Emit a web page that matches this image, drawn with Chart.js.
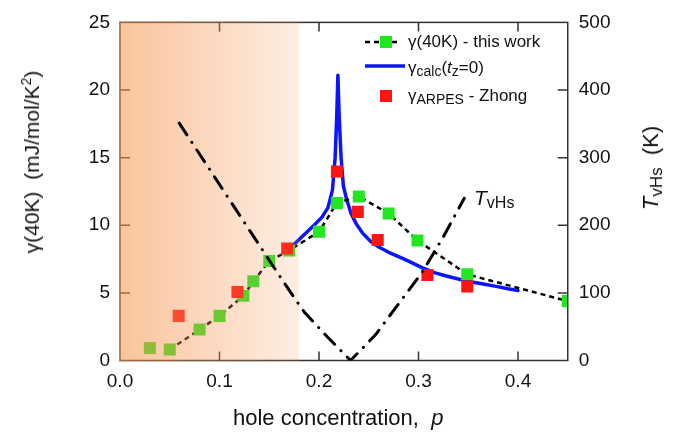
<!DOCTYPE html>
<html>
<head>
<meta charset="utf-8">
<script src="https://cdn.jsdelivr.net/npm/chart.js@4/dist/chart.umd.min.js"></script>
<style>
  html, body { margin: 0; padding: 0; background: #fff; }
  #wrap { position: relative; width: 684px; height: 437px; font-family: 'Liberation Sans', Arial, sans-serif; color: #111; }
  #c { position: absolute; left: 0; top: 0; }
  .t { position: absolute; white-space: nowrap; line-height: 1; }
  .leg { font-size: 17px; line-height: 20px; }
  .leg sub { font-size: 14px; vertical-align: -3px; line-height: 0; }
  .rot { transform: translate(-50%, -50%) rotate(-90deg); transform-origin: 50% 50%; }
  sup { font-size: 14px; vertical-align: 8px; line-height: 0; }
</style>
</head>
<body>
<div id="wrap">
  <canvas id="c" width="684" height="437"></canvas>
  <div class="t leg" style="left:408px; top:32px;">γ(40K) - this work</div>
  <div class="t leg" style="left:408px; top:58px;">γ<sub>calc</sub>(<i>t</i><sub>z</sub>=0)</div>
  <div class="t leg" style="left:408px; top:86px;">γ<sub>ARPES</sub> - Zhong</div>
  <div class="t" style="left:474px; top:186px; font-size:21px; line-height:24px;"><i>T</i><span style="font-size:16px; position:relative; top:3px;">vHs</span></div>
  <div class="t" style="left:233px; top:405px; font-size:22px; line-height:26px;">hole concentration,&nbsp; <i>p</i></div>
  <div class="t rot" style="left:32px; top:162px; font-size:21px; line-height:24px;">γ(40K)&nbsp; (mJ/mol/K<sup>2</sup>)</div>
  <div class="t rot" style="left:652px; top:168px; font-size:22px; line-height:26px;"><i>T</i><span style="font-size:17px; position:relative; top:4px;">vHs</span>&nbsp; (K)</div>
</div>
<script>
// ---- data ----
// gamma(40K) - this work (green squares, dashed guide line)
const greenP = [0.030, 0.050, 0.080, 0.100, 0.124, 0.134, 0.150, 0.170, 0.200, 0.218, 0.240, 0.270, 0.299, 0.349, 0.450];
const greenV = [0.93, 0.81, 2.29, 3.30, 4.78, 5.86, 7.35, 8.14, 9.52, 11.65, 12.13, 10.87, 8.87, 6.37, 4.39];
// gamma_ARPES - Zhong (red squares)
const redP = [0.059, 0.118, 0.168, 0.218, 0.239, 0.259, 0.309, 0.349];
const redV = [3.30, 5.07, 8.29, 13.97, 10.99, 8.91, 6.33, 5.48];
// gamma_calc (tz=0) (blue curve)
const calcP = [0.175, 0.185, 0.195, 0.203, 0.209, 0.2135, 0.2162, 0.2178, 0.2190, 0.2203, 0.2222, 0.2245, 0.2275, 0.232, 0.2375, 0.244, 0.252, 0.261, 0.270, 0.280, 0.290, 0.304, 0.316, 0.328, 0.340, 0.351, 0.365, 0.378, 0.390, 0.400];
const calcV = [8.6, 9.3, 10.0, 10.6, 11.3, 12.6, 15.0, 18.0, 21.1, 18.0, 15.0, 12.9, 12.0, 10.9, 10.1, 9.4, 8.8, 8.35, 8.0, 7.68, 7.35, 6.85, 6.5, 6.25, 6.03, 5.84, 5.65, 5.48, 5.30, 5.17];
// T_vHs (K), right axis (dash-dot)
const tP = [0.0595, 0.093, 0.1304, 0.160, 0.175, 0.1856, 0.197, 0.209, 0.2317, 0.2568, 0.2775, 0.304, 0.325, 0.346];
const tV = [351, 276, 192, 126, 93, 71, 53, 34, 0, 38, 79, 131, 183, 240];
// axis ticks
const xTicks = [0.0, 0.1, 0.2, 0.3, 0.4];
const yTicks = [0, 5, 10, 15, 20, 25];
const y2Ticks = [0, 100, 200, 300, 400, 500];
const shadeEnd = 0.18;

const pts = (xs, ys) => xs.map((x, i) => ({x, y: ys[i]}));
const FONT = "'Liberation Sans', Arial, sans-serif";
const GREEN = '#22e622', RED = '#ff1414', BLUE = '#0a14ff';
const T_INDEX = 3;

function drawFrame(chart) {
  const {ctx, chartArea: a, scales} = chart;
  ctx.save();
  ctx.strokeStyle = '#333';
  ctx.lineWidth = 1.5;
  ctx.strokeRect(a.left, a.top, a.right - a.left, a.bottom - a.top);
  ctx.beginPath();
  xTicks.forEach(v => {
    const px = scales.x.getPixelForValue(v);
    if (px <= a.left + 1) return;
    ctx.moveTo(px, a.bottom); ctx.lineTo(px, a.bottom - 9);
    ctx.moveTo(px, a.top); ctx.lineTo(px, a.top + 9);
  });
  yTicks.forEach(v => {
    const py = scales.y.getPixelForValue(v);
    if (py >= a.bottom - 1 || py <= a.top + 1) return;
    ctx.moveTo(a.left, py); ctx.lineTo(a.left + 10, py);
  });
  y2Ticks.forEach(v => {
    const py = scales.y2.getPixelForValue(v);
    if (py >= a.bottom - 1 || py <= a.top + 1) return;
    ctx.moveTo(a.right, py); ctx.lineTo(a.right - 10, py);
  });
  ctx.stroke();

  // legend symbols
  ctx.lineWidth = 2.5; ctx.strokeStyle = '#000'; ctx.setLineDash([5, 4]);
  ctx.beginPath(); ctx.moveTo(365, 42); ctx.lineTo(399, 42); ctx.stroke();
  ctx.setLineDash([]);
  ctx.fillStyle = GREEN; ctx.fillRect(380, 36, 12, 12);
  ctx.strokeStyle = BLUE; ctx.lineWidth = 3.5;
  ctx.beginPath(); ctx.moveTo(365, 66); ctx.lineTo(405, 66); ctx.stroke();
  ctx.fillStyle = RED; ctx.fillRect(380, 90, 12, 12);
  ctx.restore();
}

function drawShade(chart) {
  const {ctx, chartArea: a, scales} = chart;
  const x0 = a.left - 1, x1 = scales.x.getPixelForValue(shadeEnd);
  const g = ctx.createLinearGradient(x0, 0, x1, 0);
  g.addColorStop(0, 'rgba(245,150,80,0.57)');
  g.addColorStop(1, 'rgba(245,150,80,0.16)');
  ctx.save();
  ctx.fillStyle = g;
  ctx.fillRect(x0, a.top - 1, x1 - x0, a.bottom - a.top + 2);
  ctx.restore();
}

const decor = {
  id: 'decor',
  beforeDatasetDraw(chart, args) {
    if (args.index === T_INDEX) { drawFrame(chart); drawShade(chart); }
  }
};

new Chart(document.getElementById('c'), {
  type: 'scatter',
  data: {
    datasets: [
      {
        label: 'γARPES - Zhong', data: pts(redP, redV), order: 1,
        showLine: false, pointStyle: 'rect', pointRadius: 8.5, pointBorderWidth: 0,
        pointBackgroundColor: RED, backgroundColor: RED, borderColor: RED
      },
      {
        label: 'γ(40K) - this work', data: pts(greenP, greenV), order: 2,
        showLine: true, borderColor: '#000', borderWidth: 2.5, borderDash: [5, 4],
        segment: { borderColor: c => c.p0DataIndex === 0 ? 'rgba(0,0,0,0)' : '#000' },
        pointStyle: 'rect', pointRadius: 8.5, pointBorderWidth: 0,
        pointBackgroundColor: GREEN, backgroundColor: GREEN
      },
      {
        label: 'γcalc(tz=0)', data: pts(calcP, calcV), order: 3,
        showLine: true, borderColor: BLUE, borderWidth: 3.5, pointRadius: 0,
        borderJoinStyle: 'round', borderCapStyle: 'round'
      },
      {
        label: 'TvHs', data: pts(tP, tV), yAxisID: 'y2', order: 0,
        showLine: true, borderColor: '#000', borderWidth: 3, pointRadius: 0,
        borderDash: [14, 9, 0.1, 9], borderCapStyle: 'round'
      }
    ]
  },
  options: {
    responsive: false, animation: false, devicePixelRatio: 1,
    layout: { padding: { top: 16, left: 0, right: 0, bottom: 0 } },
    plugins: { legend: { display: false }, tooltip: { enabled: false } },
    scales: {
      x: {
        type: 'linear', position: 'bottom', min: 0, max: 0.45,
        afterFit: s => { s.height = 76.5; },
        afterBuildTicks: s => { s.ticks = xTicks.map(v => ({value: v})); },
        ticks: { callback: v => v.toFixed(1), font: {family: FONT, size: 19}, color: '#111', padding: 10, autoSkip: false, maxRotation: 0 },
        grid: { display: false, drawTicks: false }, border: { display: false }
      },
      y: {
        type: 'linear', position: 'left', min: 0, max: 25,
        afterFit: s => { s.width = 120; },
        afterBuildTicks: s => { s.ticks = yTicks.map(v => ({value: v})); },
        ticks: { font: {family: FONT, size: 19}, color: '#111', padding: 10 },
        grid: { display: false, drawTicks: false }, border: { display: false }
      },
      y2: {
        type: 'linear', position: 'right', min: 0, max: 500,
        afterFit: s => { s.width = 116.25; },
        afterBuildTicks: s => { s.ticks = y2Ticks.map(v => ({value: v})); },
        ticks: { font: {family: FONT, size: 19}, color: '#111', padding: 11 },
        grid: { display: false, drawTicks: false }, border: { display: false }
      }
    }
  },
  plugins: [decor]
});
</script>
</body>
</html>
